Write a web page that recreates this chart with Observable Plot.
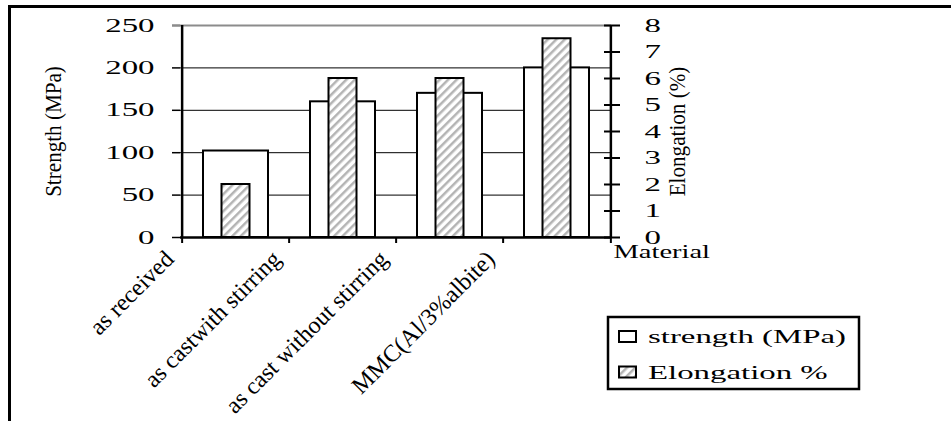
<!DOCTYPE html>
<html>
<head>
<meta charset="utf-8">
<script src="https://cdn.jsdelivr.net/npm/d3@7"></script>
<script src="https://cdn.jsdelivr.net/npm/@observablehq/plot@0.6"></script>
<style>
  html, body { margin: 0; padding: 0; background: #fff; }
  #wrap { position: relative; width: 951px; height: 421px; overflow: hidden; }
  #wrap svg { position: absolute; left: 0; top: 0; }
  #edge { position: absolute; left: 8px; top: 5px; width: 960px; height: 430px;
          border-top: 3px solid #000; border-left: 3px solid #000; pointer-events: none; }
</style>
</head>
<body>
<div id="wrap"><div id="edge"></div></div>
<script>
// Tensile results per material condition
const materials = ["as received", "as castwith stirring", "as cast without stirring", "MMC(Al/3%albite)"];
const strength = [102, 160, 170, 200];      // MPa, left axis
const elongation = [2, 6, 6, 7.5];          // %, right axis
const strengthTicks = [0, 50, 100, 150, 200, 250];
const elongationTicks = [0, 1, 2, 3, 4, 5, 6, 7, 8];
const seriesNames = ["strength (MPa)", "Elongation %"];
const leftTitle = "Strength (MPa)";
const rightTitle = "Elongation (%)";
const xTitle = "Material";

const W = 951, H = 421, mL = 180, mR = 340, mT = 25, mB = 184;
const bw = (W - mL - mR) / materials.length;
const strengthMax = 250, elongationMax = 8;
const toStrength = v => v * strengthMax / elongationMax;
const serif = "'Liberation Serif', 'Times New Roman', serif";

const rows = materials.map((m, i) => ({material: m, strength: strength[i], elongation: elongation[i]}));

const plot = Plot.plot({
  width: W, height: H,
  marginLeft: mL, marginRight: mR, marginTop: mT, marginBottom: mB,
  style: {fontFamily: serif, background: "transparent", color: "black"},
  x: {type: "band", domain: materials, padding: 0, axis: null},
  y: {domain: [0, strengthMax], axis: null},
  marks: [
    Plot.gridY([50, 100, 150, 200], {stroke: "black", strokeOpacity: 1, strokeWidth: 1}),
    Plot.ruleY([strengthMax], {stroke: "#8c8c8c", strokeWidth: 2}),
    Plot.axisY(strengthTicks, {anchor: "left", tickSize: 8, tickPadding: 18, fontSize: 19,
      tickFormat: d => d, strokeWidth: 1.5, label: null}),
    Plot.axisY([strengthMax], {anchor: "left", tickSize: 8, stroke: "#8c8c8c", strokeWidth: 2,
      tickFormat: () => "", label: null}),
    Plot.axisY(elongationTicks.map(toStrength), {anchor: "right", tickSize: 16, dx: -8, tickPadding: 25,
      fontSize: 19, tickFormat: d => Math.round(d * elongationMax / strengthMax), strokeWidth: 2, label: null}),
    Plot.barY(rows, {x: "material", y: "strength", fill: "white", stroke: "black", strokeWidth: 2,
      insetLeft: 21, insetRight: 21}),
    Plot.barY(rows, {x: "material", y: d => toStrength(d.elongation), fill: "url(#hatch)", stroke: "black",
      strokeWidth: 2, insetLeft: 39.5, insetRight: 39.5}),
    Plot.ruleY([0], {strokeWidth: 2.5}),
    Plot.ruleX([materials[0]], {dx: -bw / 2, y1: 0, y2: strengthMax, strokeWidth: 2.5}),
    Plot.ruleX([materials[materials.length - 1]], {dx: bw / 2, y1: 0, y2: strengthMax, strokeWidth: 2.5}),
    Plot.axisX(materials, {anchor: "bottom", tickSize: 6, dx: -bw / 2, tickFormat: () => "", strokeWidth: 2, label: null}),
    Plot.axisX(materials.slice(-1), {anchor: "bottom", tickSize: 6, dx: bw / 2, tickFormat: () => "", strokeWidth: 2, label: null}),
    Plot.text(materials, {x: d => d, frameAnchor: "bottom", rotate: -45, textAnchor: "end", lineAnchor: "bottom",
      dx: -bw / 2 - 7, dy: 23, fontSize: 24}),
    Plot.text([leftTitle], {frameAnchor: "left", rotate: -90, textAnchor: "middle", lineAnchor: "middle",
      dx: -127, fontSize: 24}),
    Plot.text([rightTitle], {frameAnchor: "right", rotate: -90, textAnchor: "middle", lineAnchor: "middle",
      dx: 66, fontSize: 24}),
    Plot.text([xTitle], {frameAnchor: "bottom-right", textAnchor: "start", lineAnchor: "top", dx: 2, dy: 7, fontSize: 19})
  ]
});

const svg = d3.select(plot);

// diagonal hatch used by the elongation bars
const pat = svg.insert("defs", ":first-child").append("pattern")
  .attr("id", "hatch").attr("patternUnits", "userSpaceOnUse")
  .attr("width", 6).attr("height", 6).attr("patternTransform", "rotate(45)");
pat.append("rect").attr("width", 6).attr("height", 6).attr("fill", "white");
pat.append("rect").attr("width", 2.5).attr("height", 6).attr("fill", "#b4b4b4");

// stretch text about its own anchor (each text carries translate(...) [rotate(...)])
function stretch(sel, sx, sy = 1) {
  sel.each(function() {
    const t = this.getAttribute("transform") || "";
    this.setAttribute("transform", `${t} scale(${sx},${sy})`);
  });
}
stretch(svg.selectAll('g[aria-label="y-axis tick label"] text'), 1.73);
stretch(svg.selectAll("text").filter(function() { return this.textContent === xTitle; }), 1.5);
stretch(svg.selectAll("text").filter(function() {
  return this.textContent === leftTitle || this.textContent === rightTitle;
}), 0.88);

// legend box
const lg = svg.append("g").attr("font-family", serif).attr("font-size", 19).attr("text-anchor", "start");
lg.append("rect").attr("x", 608).attr("y", 317).attr("width", 251).attr("height", 72)
  .attr("fill", "white").attr("stroke", "black").attr("stroke-width", 2.5);
const swFill = ["white", "url(#hatch)"];
seriesNames.forEach((name, i) => {
  const yb = 343 + i * 35.5;
  lg.append("rect").attr("x", 619).attr("y", yb - 12).attr("width", 17).attr("height", 11)
    .attr("fill", swFill[i]).attr("stroke", "black").attr("stroke-width", 2);
  lg.append("text").attr("transform", `translate(648,${yb}) scale(1.73,1)`).text(name);
});

document.getElementById("wrap").prepend(plot);
</script>
</body>
</html>
